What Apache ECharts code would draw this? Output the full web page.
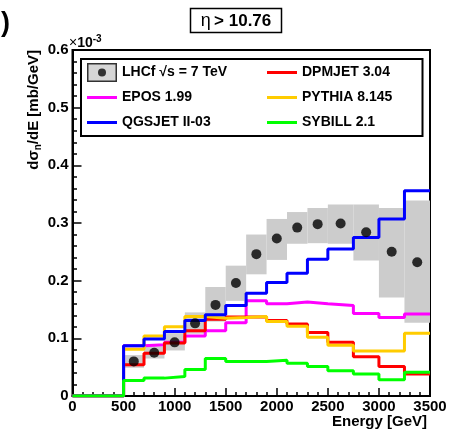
<!DOCTYPE html>
<html>
<head>
<meta charset="utf-8">
<script src="https://cdn.jsdelivr.net/npm/echarts@6/dist/echarts.min.js"></script>
<style>
html,body{margin:0;padding:0;background:#fff;}
#c{width:450px;height:431px;}
</style>
</head>
<body>
<div id="c"></div>
<script>
// ---- data (values in units of 1e-3 mb/GeV) ----
const binEdges = [0, 500, 700, 900, 1100, 1300, 1500, 1700, 1900, 2100, 2300, 2500, 2750, 3000, 3250, 3500];
const dpmjet  = [0, 0.054, 0.074, 0.092, 0.113, 0.133, 0.137, 0.137, 0.131, 0.125, 0.110, 0.093, 0.068, 0.051, 0.038];
const epos    = [0, 0.087, 0.089, 0.093, 0.104, 0.113, 0.127, 0.165, 0.160, 0.163, 0.160, 0.157, 0.143, 0.136, 0.142];
const pythia  = [0, 0.081, 0.104, 0.120, 0.138, 0.135, 0.136, 0.138, 0.129, 0.121, 0.102, 0.088, 0.078, 0.078, 0.109];
const qgsjet  = [0, 0.087, 0.099, 0.112, 0.131, 0.141, 0.157, 0.178, 0.197, 0.213, 0.237, 0.255, 0.275, 0.307, 0.356];
const sybill  = [0, 0.027, 0.031, 0.034, 0.046, 0.065, 0.060, 0.060, 0.062, 0.057, 0.051, 0.044, 0.038, 0.028, 0.041];
const lhcfEnergy = [600, 800, 1000, 1200, 1400, 1600, 1800, 2000, 2200, 2400, 2625, 2875, 3125, 3375];
const lhcfValue  = [0.060, 0.075, 0.093, 0.126, 0.158, 0.196, 0.246, 0.273, 0.292, 0.298, 0.299, 0.284, 0.250, 0.232];
const lhcfLow    = [0.049, 0.065, 0.079, 0.108, 0.129, 0.165, 0.211, 0.236, 0.264, 0.265, 0.264, 0.235, 0.171, 0.127];
const lhcfHigh   = [0.071, 0.086, 0.109, 0.145, 0.189, 0.226, 0.280, 0.307, 0.319, 0.326, 0.332, 0.332, 0.326, 0.339];
const xTicks = [0, 500, 1000, 1500, 2000, 2500, 3000, 3500];
const yTicks = [0, 0.1, 0.2, 0.3, 0.4, 0.5, 0.6];
const names = {
  lhcf: 'LHCf \u221As = 7 TeV', dpm: 'DPMJET 3.04', epos: 'EPOS 1.99',
  pyt: 'PYTHIA 8.145', qgs: 'QGSJET II-03', syb: 'SYBILL 2.1'
};

// ---- build ----
const FONT = 'Liberation Sans, Arial, Helvetica, sans-serif';
function stepData(vals) {
  const d = vals.map((v, i) => [binEdges[i], v]);
  d.push([binEdges[binEdges.length - 1], vals[vals.length - 1]]);
  return d;
}
function lineSeries(name, vals, color) {
  return {
    name: name, type: 'line', step: 'end', data: stepData(vals),
    symbol: 'none', showSymbol: false, clip: true,
    lineStyle: { color: color, width: 3 }, itemStyle: { color: color },
    animation: false
  };
}
const bandData = lhcfEnergy.map((e, i) => [binEdges[i + 1], binEdges[i + 2], lhcfLow[i], lhcfHigh[i]]);
const pointData = lhcfEnergy.map((e, i) => [e, lhcfValue[i]]);

const svgIcon = "<svg xmlns='http://www.w3.org/2000/svg' width='30' height='19'>" +
  "<rect x='0.75' y='0.75' width='28.5' height='17.5' fill='#cccccc' stroke='#000' stroke-width='1.5'/>" +
  "<circle cx='15' cy='9.5' r='4' fill='#000'/></svg>";
const lhcfIcon = 'image://data:image/svg+xml;charset=utf-8,' + encodeURIComponent(svgIcon);
const lineIcon = 'path://M0,0H30V3H0Z';

const axisLabelStyle = { color: '#000', fontWeight: 'bold', fontSize: 15, fontFamily: FONT };
const legendCommon = {
  orient: 'vertical', itemWidth: 30, itemHeight: 19, itemGap: 6,
  selectedMode: false, padding: 0,
  textStyle: { color: '#000', fontWeight: 'bold', fontSize: 14, fontFamily: FONT, lineHeight: 19 }
};

const chart = echarts.init(document.getElementById('c'), null, { renderer: 'canvas' });
chart.setOption({
  animation: false,
  backgroundColor: '#fff',
  grid: {
    left: 72.5, right: 20, top: 50, bottom: 35,
    show: true, borderColor: '#000', borderWidth: 2, backgroundColor: 'transparent',
    containLabel: false, outerBoundsMode: 'none'
  },
  xAxis: {
    type: 'value', min: xTicks[0], max: xTicks[xTicks.length - 1], interval: 500,
    axisLine: { show: true, onZero: false, lineStyle: { color: '#000', width: 2 } },
    axisTick: { show: true, inside: true, length: 8, lineStyle: { color: '#000', width: 1.5 } },
    minorTick: { show: true, splitNumber: 5, length: 4, lineStyle: { color: '#000', width: 1.5 } },
    splitLine: { show: false },
    axisLabel: Object.assign({ margin: 3, showMinLabel: true, showMaxLabel: true,
      formatter: v => String(Math.round(v)) }, axisLabelStyle)
  },
  yAxis: {
    type: 'value', min: yTicks[0], max: yTicks[yTicks.length - 1], interval: 0.1,
    axisLine: { show: true, onZero: false, lineStyle: { color: '#000', width: 2 } },
    axisTick: { show: true, inside: true, length: 9, lineStyle: { color: '#000', width: 1.5 } },
    minorTick: { show: true, splitNumber: 5, length: 4.5, lineStyle: { color: '#000', width: 1.5 } },
    splitLine: { show: false },
    axisLabel: Object.assign({
      margin: 4, showMinLabel: true, showMaxLabel: true,
      formatter: v => (Math.abs(v) < 1e-9 ? '0' : v.toFixed(1))
    }, axisLabelStyle)
  },
  legend: [
    Object.assign({ left: 87, top: 63,
      data: [{ name: names.lhcf, icon: lhcfIcon }, { name: names.epos, icon: lineIcon }, { name: names.qgs, icon: lineIcon }] }, legendCommon),
    Object.assign({ left: 267, top: 63,
      data: [{ name: names.dpm, icon: lineIcon }, { name: names.pyt, icon: lineIcon }, { name: names.syb, icon: lineIcon }] }, legendCommon)
  ],
  series: [
    {
      name: names.lhcf + ' band', type: 'custom', data: bandData, z: 1,
      encode: { x: [0, 1], y: [2, 3] }, animation: false,
      renderItem: function (params, api) {
        const p0 = api.coord([api.value(0), api.value(3)]);
        const p1 = api.coord([api.value(1), api.value(2)]);
        return { type: 'rect', shape: { x: p0[0], y: p0[1], width: p1[0] - p0[0], height: p1[1] - p0[1] },
                 style: { fill: '#cccccc' } };
      }
    },
    lineSeries(names.epos, epos, '#ff00ff'),
    lineSeries(names.dpm, dpmjet, '#ff0000'),
    lineSeries(names.pyt, pythia, '#ffcc00'),
    lineSeries(names.qgs, qgsjet, '#0000ff'),
    lineSeries(names.syb, sybill, '#00ff00'),
    {
      name: names.lhcf, type: 'scatter', data: pointData, symbol: 'circle', symbolSize: 10,
      itemStyle: { color: '#000' }, z: 5, animation: false
    }
  ],
  graphic: [
    { type: 'rect', shape: { x: 81, y: 59, width: 341.5, height: 77 }, z: 50,
      style: { fill: 'transparent', stroke: '#000', lineWidth: 2 } },
    { type: 'rect', shape: { x: 190.5, y: 8.5, width: 91, height: 24 }, z: 50,
      style: { fill: '#fff', stroke: '#000', lineWidth: 1.5 } },
    { type: 'text', x: 236, y: 21, z: 51,
      style: { text: '{e|\u03B7} {b|> 10.76}', align: 'center', verticalAlign: 'middle',
        rich: { e: { fontSize: 18, fontFamily: FONT, fill: '#000' },
                b: { fontSize: 17, fontWeight: 'bold', fontFamily: FONT, fill: '#000' } } } },
    { type: 'text', x: 1, y: 24, z: 51,
      style: { text: ')', fontSize: 27, fontWeight: 'bold', fontFamily: FONT, fill: '#000', align: 'left', verticalAlign: 'middle' } },
    { type: 'text', x: 69, y: 43, z: 51,
      style: { text: '{x|\u00D7}{a|10}{s|-3}', align: 'left', verticalAlign: 'middle',
        rich: { x: { fontSize: 14, fontFamily: FONT, fill: '#000' },
                a: { fontSize: 14, fontWeight: 'bold', fontFamily: FONT, fill: '#000' },
                s: { fontSize: 10, fontWeight: 'bold', fontFamily: FONT, fill: '#000', verticalAlign: 'top', padding: [0, 0, 7, 0] } } } },
    { type: 'text', x: 427, y: 421.5, z: 51,
      style: { text: 'Energy [GeV]', fontSize: 15, fontWeight: 'bold', fontFamily: FONT, fill: '#000', align: 'right', verticalAlign: 'middle' } },
    { type: 'text', x: 34, y: 50, rotation: Math.PI / 2, z: 51,
      style: { text: '{a|d\u03C3}{n|n}{a|/dE [mb/GeV]}', align: 'right', verticalAlign: 'middle',
        rich: { a: { fontSize: 15, fontWeight: 'bold', fontFamily: FONT, fill: '#000', lineHeight: 18 },
                n: { fontSize: 10, fontWeight: 'bold', fontFamily: FONT, fill: '#000', verticalAlign: 'bottom', lineHeight: 18, padding: [6, 0, 0, 0] } } } }
  ]
});
</script>
</body>
</html>
